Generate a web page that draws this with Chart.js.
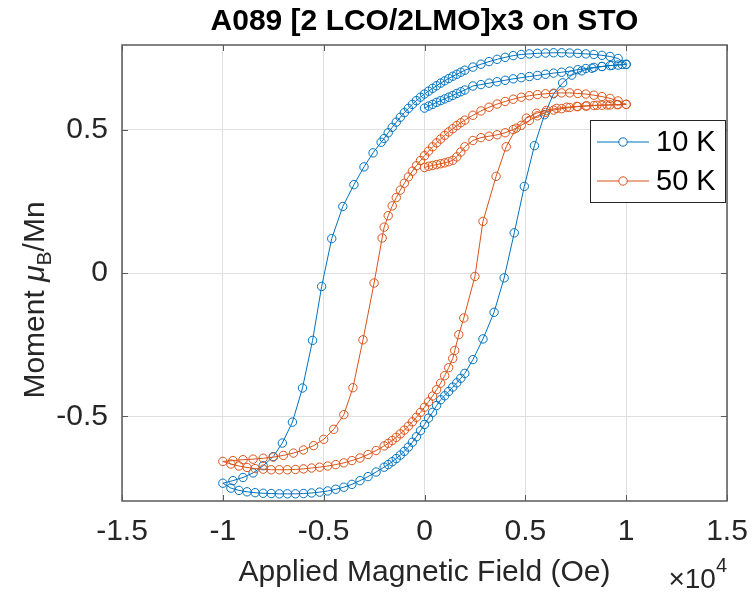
<!DOCTYPE html>
<html lang="en">
<head>
<meta charset="UTF-8">
<title>A089 hysteresis loops</title>
<style>
  html, body { margin: 0; padding: 0; background: #fff; }
</style>
</head>
<body>
<canvas id="myChart" width="752" height="595"></canvas>
<script src="https://cdn.jsdelivr.net/npm/chart.js"></script>
<script>
// applied field in Oe, moment in mu_B / Mn
// each loop: initial 0 -> +10 kOe, then +10 -> -10 kOe, then -10 -> +10 kOe
const field10K = [
  0, 200, 400, 600, 800, 1000, 1200, 1400, 1600, 1800, 2000, 2400, 2800, 3200, 3600, 4000, 4400, 4800, 5200, 5600, 6000, 6400, 6800, 7200, 7600, 8000, 8400, 8800, 9200, 9600, 10000,
  9600, 9200, 8800, 8400, 8000, 7600, 7200, 6800, 6400, 6000, 5600, 5200, 4800, 4400, 4000, 3600, 3200, 2800, 2400, 2000,
  1800, 1600, 1400, 1200, 1000, 800, 600, 400, 200, 0, -200, -400, -600, -800, -1000, -1200, -1400, -1600, -1800, -2000,
  -2150, -2550, -3000, -3500, -4050, -4600, -5100, -5550, -6050, -6550, -7050, -7500, -8000, -8500, -9000, -9500, -10000,
  -9600, -9200, -8800, -8400, -8000, -7600, -7200, -6800, -6400, -6000, -5600, -5200, -4800, -4400, -4000, -3600, -3200, -2800, -2400, -2000,
  -1800, -1600, -1400, -1200, -1000, -800, -600, -400, -200, 0, 200, 400, 600, 800, 1000, 1200, 1400, 1600, 1800, 2000,
  2400, 2900, 3450, 3950, 4450, 4950, 5450, 5950, 6400, 6850, 7300, 7800, 8300, 8800, 9300, 9800, 10000
];
const moment10K = [
  0.575, 0.582, 0.588, 0.595, 0.601, 0.607, 0.613, 0.619, 0.626, 0.632, 0.638, 0.652, 0.657, 0.662, 0.667, 0.672, 0.677, 0.681, 0.685, 0.689, 0.693, 0.697, 0.700, 0.704, 0.709, 0.713, 0.717, 0.720, 0.723, 0.725, 0.727,
  0.748, 0.755, 0.759, 0.762, 0.764, 0.766, 0.767, 0.768, 0.768, 0.767, 0.766, 0.764, 0.762, 0.758, 0.752, 0.745, 0.737, 0.728, 0.718, 0.707,
  0.700, 0.693, 0.686, 0.678, 0.670, 0.662, 0.653, 0.644, 0.634, 0.624, 0.613, 0.601, 0.588, 0.574, 0.559, 0.543, 0.526, 0.508, 0.489, 0.469,
  0.456, 0.419, 0.370, 0.308, 0.232, 0.120, -0.047, -0.235, -0.401, -0.520, -0.593, -0.640, -0.672, -0.697, -0.713, -0.724, -0.733,
  -0.750, -0.758, -0.763, -0.766, -0.768, -0.769, -0.770, -0.770, -0.770, -0.769, -0.767, -0.764, -0.760, -0.754, -0.747, -0.737, -0.724, -0.710, -0.694, -0.677,
  -0.668, -0.658, -0.647, -0.635, -0.622, -0.607, -0.590, -0.571, -0.550, -0.528, -0.506, -0.486, -0.462, -0.442, -0.428, -0.413, -0.398, -0.383, -0.367, -0.350,
  -0.302, -0.230, -0.137, -0.017, 0.140, 0.302, 0.444, 0.552, 0.625, 0.663, 0.690, 0.705, 0.714, 0.720, 0.724, 0.727, 0.728
];
const field50K = [
  0, 200, 400, 600, 800, 1000, 1200, 1400, 1600, 1800, 2000, 2400, 2800, 3200, 3600, 4000, 4400, 4800, 5200, 5600, 6000, 6400, 6800, 7200, 7600, 8000, 8400, 8800, 9200, 9600, 10000,
  9600, 9200, 8800, 8400, 8000, 7600, 7200, 6800, 6400, 6000, 5600, 5200, 4800, 4400, 4000, 3600, 3200, 2800, 2400, 2000,
  1800, 1600, 1400, 1200, 1000, 800, 600, 400, 200, 0, -200, -400, -600, -800, -1000, -1200, -1400, -1600, -1800, -2000,
  -2100, -2500, -3050, -3550, -4000, -4500, -5000, -5500, -6000, -6500, -7000, -7500, -8000, -8500, -9000, -9500, -10000,
  -9600, -9200, -8800, -8400, -8000, -7600, -7200, -6800, -6400, -6000, -5600, -5200, -4800, -4400, -4000, -3600, -3200, -2800, -2400, -2000,
  -1800, -1600, -1400, -1200, -1000, -800, -600, -400, -200, 0, 200, 400, 600, 800, 1000, 1200, 1400,
  1500, 1700, 1950, 2500, 2900, 3550, 4050, 4550, 5050, 5550, 6050, 6550, 7050, 7550, 8050, 8550, 9050, 9550, 10000
];
const moment50K = [
  0.368, 0.372, 0.375, 0.378, 0.381, 0.384, 0.388, 0.393, 0.405, 0.422, 0.440, 0.462, 0.472, 0.477, 0.482, 0.489, 0.500, 0.515, 0.532, 0.548, 0.560, 0.568, 0.573, 0.577, 0.580, 0.582, 0.584, 0.585, 0.586, 0.587, 0.588,
  0.600, 0.609, 0.615, 0.620, 0.624, 0.626, 0.628, 0.628, 0.627, 0.625, 0.622, 0.618, 0.613, 0.606, 0.598, 0.589, 0.578, 0.565, 0.550, 0.533,
  0.524, 0.514, 0.503, 0.492, 0.480, 0.467, 0.454, 0.440, 0.425, 0.409, 0.392, 0.374, 0.355, 0.335, 0.313, 0.289, 0.263, 0.234, 0.200, 0.160,
  0.122, -0.035, -0.233, -0.400, -0.494, -0.545, -0.580, -0.602, -0.617, -0.628, -0.636, -0.642, -0.646, -0.649, -0.651, -0.654, -0.657,
  -0.666, -0.673, -0.678, -0.682, -0.684, -0.686, -0.686, -0.686, -0.685, -0.683, -0.680, -0.677, -0.673, -0.668, -0.662, -0.654, -0.645, -0.633, -0.619, -0.603,
  -0.594, -0.584, -0.573, -0.561, -0.548, -0.534, -0.519, -0.503, -0.486, -0.468, -0.449, -0.429, -0.407, -0.384, -0.358, -0.330, -0.298,
  -0.270, -0.215, -0.157, -0.012, 0.180, 0.337, 0.440, 0.505, 0.540, 0.557, 0.567, 0.574, 0.578, 0.581, 0.583, 0.585, 0.586, 0.587, 0.588
];

const seriesLabels = ['10 K', '50 K'];
const seriesColors = ['#0072BD', '#D95319'];
const xTicks = [-15000, -10000, -5000, 0, 5000, 10000, 15000];
const yTicks = [-0.5, 0, 0.5];

const FONT = "'Liberation Sans', Arial, Helvetica, sans-serif";
const TEXT = '#262626';

function toPoints(xs, ys) {
    return xs.map((x, i) => ({ x: x, y: ys[i] }));
}

// title, y label with subscript, exponent, legend, box and inward ticks (MATLAB look)
const matlabDecor = {
    id: 'matlabDecor',
    afterDraw(chart) {
        const { ctx, chartArea: a } = chart;
        const xs = chart.scales.x, ys = chart.scales.y;
        ctx.save();

        // axes box
        ctx.strokeStyle = '#5a5a5a';
        ctx.lineWidth = 1.5;
        ctx.strokeRect(a.left, a.top, a.right - a.left, a.bottom - a.top);

        // inward ticks on all four sides
        ctx.beginPath();
        xTicks.forEach(v => {
            const px = Math.round(xs.getPixelForValue(v)) + 0.5;
            ctx.moveTo(px, a.bottom); ctx.lineTo(px, a.bottom - 6);
            ctx.moveTo(px, a.top); ctx.lineTo(px, a.top + 6);
        });
        yTicks.forEach(v => {
            const py = Math.round(ys.getPixelForValue(v)) + 0.5;
            ctx.moveTo(a.left, py); ctx.lineTo(a.left + 6, py);
            ctx.moveTo(a.right, py); ctx.lineTo(a.right - 6, py);
        });
        ctx.lineWidth = 1;
        ctx.stroke();

        ctx.fillStyle = '#000';
        // title
        ctx.font = `bold 30px ${FONT}`;
        ctx.textAlign = 'center';
        ctx.textBaseline = 'alphabetic';
        ctx.fillText('A089 [2 LCO/2LMO]x3 on STO', (a.left + a.right) / 2, 30);

        // y label: Moment \mu_B/Mn
        ctx.fillStyle = TEXT;
        const parts = [
            ['Moment ', `30px ${FONT}`, 0],
            ['\u03bc', `italic 30px ${FONT}`, 0],
            ['B', `21px ${FONT}`, 7],
            ['/Mn', `30px ${FONT}`, 0]
        ];
        let w = 0;
        parts.forEach(p => { ctx.font = p[1]; w += ctx.measureText(p[0]).width; });
        ctx.save();
        ctx.translate(44, 300);
        ctx.rotate(-Math.PI / 2);
        ctx.textAlign = 'left';
        let tx = -w / 2;
        parts.forEach(p => {
            ctx.font = p[1];
            ctx.fillText(p[0], tx, p[2]);
            tx += ctx.measureText(p[0]).width;
        });
        ctx.restore();

        // x exponent: x10^4, right aligned to the axes
        ctx.textAlign = 'left';
        ctx.font = `28px ${FONT}`;
        const base = '\u00d710';
        const wb = ctx.measureText(base).width;
        ctx.font = `20px ${FONT}`;
        const we = ctx.measureText('4').width;
        const ex = a.right - wb - we;
        ctx.font = `28px ${FONT}`;
        ctx.fillText(base, ex, 588);
        ctx.font = `20px ${FONT}`;
        ctx.fillText('4', ex + wb, 572);

        // legend box, top right inside the axes
        const lg = { left: 590, top: 120, right: 725, bottom: 202 };
        ctx.fillStyle = '#fff';
        ctx.fillRect(lg.left, lg.top, lg.right - lg.left, lg.bottom - lg.top);
        ctx.strokeStyle = '#262626';
        ctx.lineWidth = 1;
        ctx.strokeRect(lg.left + 0.5, lg.top + 0.5, lg.right - lg.left, lg.bottom - lg.top);
        chart.data.datasets.forEach((ds, i) => {
            const ly = 142 + i * 39;
            ctx.strokeStyle = ds.borderColor;
            ctx.beginPath();
            ctx.moveTo(597, ly); ctx.lineTo(649, ly);
            ctx.stroke();
            ctx.beginPath();
            ctx.arc(623, ly, 4.2, 0, Math.PI * 2);
            ctx.fillStyle = '#fff';
            ctx.fill();
            ctx.stroke();
            ctx.fillStyle = '#000';
            ctx.font = `29px ${FONT}`;
            ctx.textBaseline = 'middle';
            ctx.fillText(ds.label, 656, ly + 1);
            ctx.textBaseline = 'alphabetic';
        });

        ctx.restore();
    }
};

const ctx = document.getElementById('myChart').getContext('2d');
const chart = new Chart(ctx, {
    type: 'scatter',
    data: {
        datasets: [
            {
                label: seriesLabels[0],
                data: toPoints(field10K, moment10K),
                borderColor: seriesColors[0],
                pointBorderColor: seriesColors[0],
                pointBackgroundColor: 'rgba(255,255,255,0)',
                order: 1
            },
            {
                label: seriesLabels[1],
                data: toPoints(field50K, moment50K),
                borderColor: seriesColors[1],
                pointBorderColor: seriesColors[1],
                pointBackgroundColor: 'rgba(255,255,255,0)',
                order: 0
            }
        ]
    },
    options: {
        responsive: false,
        animation: false,
        devicePixelRatio: 1,
        showLine: true,
        elements: {
            line: { borderWidth: 1, tension: 0 },
            point: { radius: 4.2, borderWidth: 1, hoverRadius: 4.2 }
        },
        layout: { padding: { top: 45, right: 25, bottom: 0, left: 0 } },
        plugins: {
            legend: { display: false },
            title: { display: false },
            tooltip: { enabled: false }
        },
        scales: {
            x: {
                type: 'linear',
                min: -15000,
                max: 15000,
                afterBuildTicks: (scale) => { scale.ticks = xTicks.map(v => ({ value: v })); },
                afterFit: (scale) => {
                    scale.height = 94;
                    // let the end labels overhang instead of shrinking the axes
                    scale.paddingLeft = 0;
                    scale.paddingRight = 0;
                },
                grid: { color: '#dfdfdf', drawTicks: false },
                border: { display: false },
                ticks: {
                    padding: 13,
                    color: TEXT,
                    font: { family: FONT, size: 30 },
                    maxRotation: 0,
                    callback: (v) => String(v / 10000)
                },
                title: {
                    display: true,
                    text: 'Applied Magnetic Field (Oe)',
                    color: TEXT,
                    font: { family: FONT, size: 30 },
                    padding: { top: 0, bottom: 4 }
                }
            },
            y: {
                type: 'linear',
                min: -0.795,
                max: 0.795,
                afterBuildTicks: (scale) => { scale.ticks = yTicks.map(v => ({ value: v })); },
                afterFit: (scale) => { scale.width = 122; },
                grid: { color: '#dfdfdf', drawTicks: false },
                border: { display: false },
                ticks: {
                    padding: 14,
                    color: TEXT,
                    font: { family: FONT, size: 30 },
                    callback: (v) => String(v)
                }
            }
        }
    },
    plugins: [matlabDecor]
});
</script>
</body>
</html>
